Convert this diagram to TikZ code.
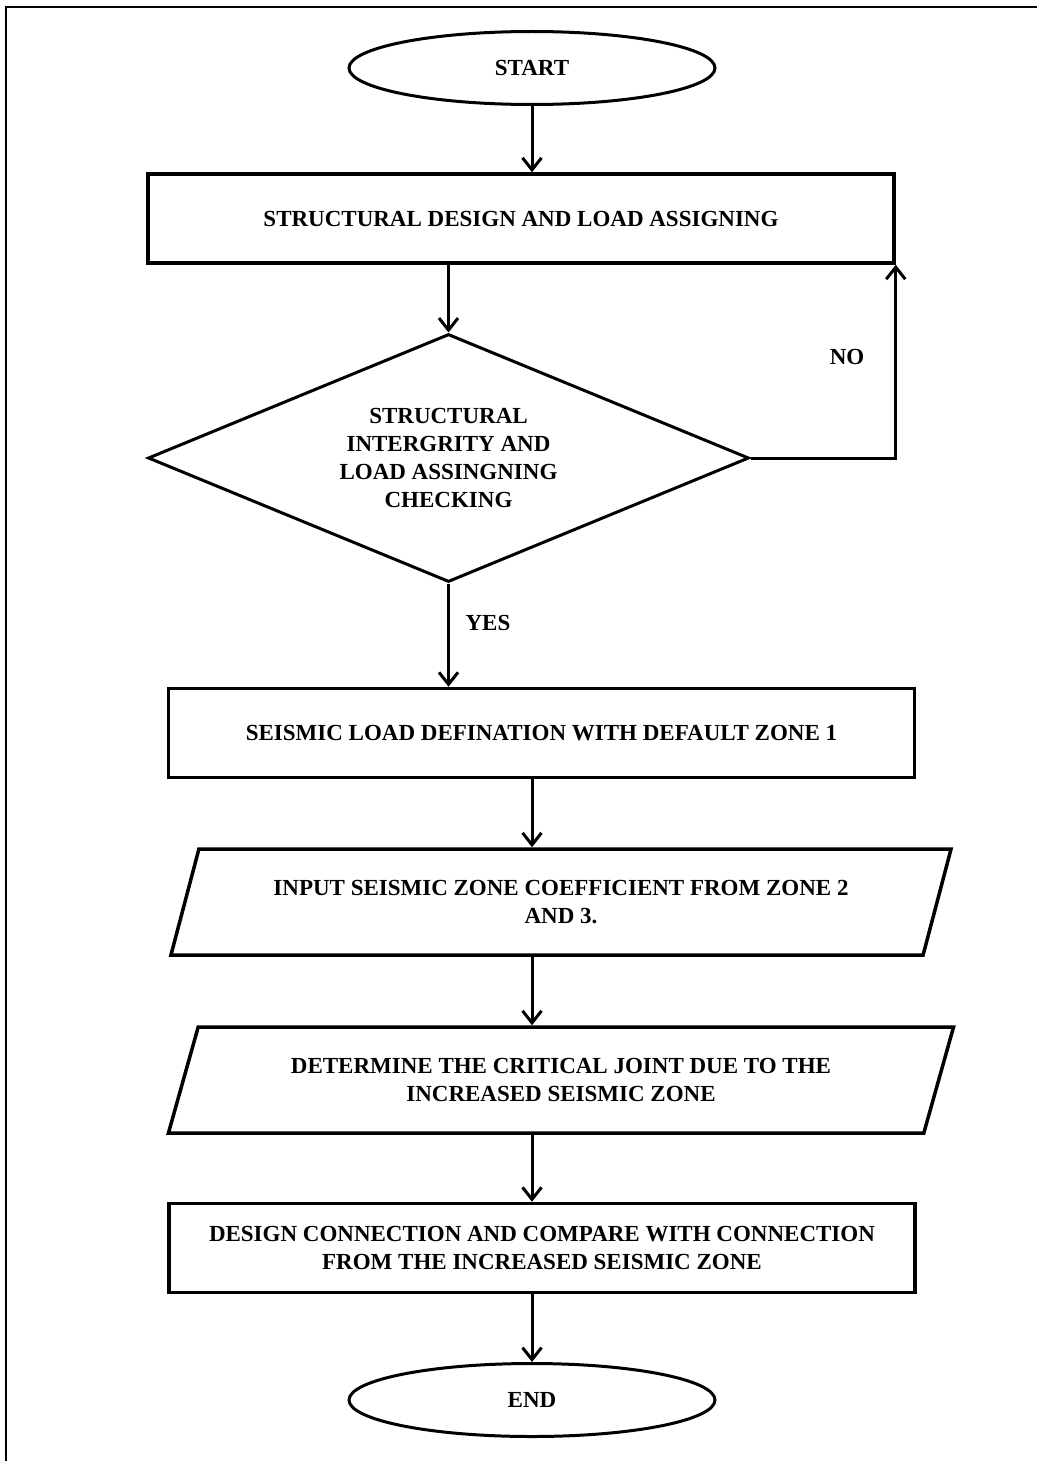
\documentclass[tikz,border=0pt]{standalone}
\usepackage{fontspec}
\setmainfont{Liberation Serif}
\usetikzlibrary{shapes.geometric, arrows.meta}

\begin{document}
\begin{tikzpicture}[x=1pt, y=-1pt,
    >={Straight Barb[length=12pt, width=19pt]},
    flowtext/.style={font=\bfseries\fontsize{23}{28}\selectfont, align=center, inner sep=0pt},
    terminal/.style={draw, ellipse, line width=3pt, minimum width=366pt, minimum height=73pt, flowtext},
    process/.style={draw, rectangle, line width=3.5pt, minimum width=746pt, minimum height=89pt, flowtext},
    decision/.style={draw, diamond, aspect=2.4, line width=3pt, minimum width=601pt, minimum height=248pt, flowtext},
    iobox/.style={draw, trapezium, trapezium left angle=63, trapezium right angle=117, trapezium stretches=true, line width=3.5pt, minimum width=786pt, minimum height=106pt, flowtext},
    flowline/.style={->, line width=3pt}]

    % Page size and the outer frame
    \useasboundingbox (0,0) rectangle (1036,1461);
    \draw[line width=2pt] (6,1470) -- (6,7) -- (1045,7);

    % Start and the first design step
    \node[terminal] (start) at (532,68) {START};
    \node[process] (design) at (521,218.5) {STRUCTURAL DESIGN AND LOAD ASSIGNING};

    % Checking step
    \node[decision] (check) at (448.5,458) {STRUCTURAL\\INTERGRITY AND\\LOAD ASSINGNING\\CHECKING};

    % Seismic steps
    \node[process] (seismic) at (541.5,733) {SEISMIC LOAD DEFINATION WITH DEFAULT ZONE 1};
    \node[iobox] (input) at (561,902) {INPUT SEISMIC ZONE COEFFICIENT FROM ZONE 2\\AND 3.};
    \node[iobox] (critical) at (561,1080) {DETERMINE THE CRITICAL JOINT DUE TO THE\\INCREASED SEISMIC ZONE};
    \node[process] (connection) at (542,1248) {DESIGN CONNECTION AND COMPARE WITH CONNECTION\\FROM THE INCREASED SEISMIC ZONE};

    % End
    \node[terminal] (end) at (532,1400) {END};

    % Branch labels
    \node[flowtext] (yes) at (488,623) {YES};
    \node[flowtext] (no) at (847,357) {NO};

    % Arrows down the chart
    \draw[flowline] (start) -- (start |- design.north);
    \draw[flowline] (check.north |- design.south) -- (check.north);
    \draw[flowline] (check.south) -- (check.south |- seismic.north);
    \draw[flowline] (start |- seismic.south) -- (start |- input.north);
    \draw[flowline] (start |- input.south) -- (start |- critical.north);
    \draw[flowline] (start |- critical.south) -- (start |- connection.north);
    \draw[flowline] (start |- connection.south) -- (end);

    % Loop back when the check fails
    \draw[flowline] (check.east) -- (design.south east |- check.east) -- (design.south east);

\end{tikzpicture}
\end{document}
